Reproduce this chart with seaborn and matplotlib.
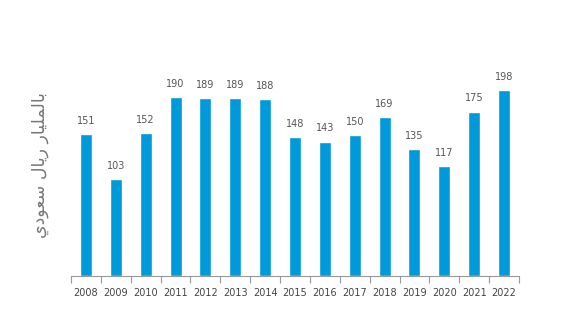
import matplotlib
matplotlib.use("Agg")
import matplotlib.pyplot as plt
import seaborn as sns
import pandas as pd
from matplotlib.ticker import FixedLocator

years = ["2008", "2009", "2010", "2011", "2012", "2013", "2014", "2015",
         "2016", "2017", "2018", "2019", "2020", "2021", "2022"]
values = [151, 103, 152, 190, 189, 189, 188, 148, 143, 150, 169, 135, 117, 175, 198]
ylabel_logical = "بالمليار ريال سعودي"
# visual (shaped, left-to-right) form of the label above
ylabel_visual = ("\uFEF1\uFEA9\uFEEE\uFECC\uFEB3" + " " +
                 "\uFEDD\uFE8E\uFEF3\uFEAD" + " " +
                 "\uFEAD\uFE8E\uFEF4\uFEE0\uFEE4\uFEDF\uFE8E\uFE91")

df = pd.DataFrame({"year": years, "value": values})

sns.set_theme(style="white")
plt.rcParams['font.family'] = ['DejaVu Sans']

fig = plt.figure(figsize=(5.73, 3.33), dpi=100)
ax = fig.add_axes([71/573, 1-276/333, 448/573, 235/333])

sns.barplot(data=df, x="year", y="value", color="#009ADA", width=0.4,
            saturation=1, ax=ax)

ax.set_ylim(0, 250)
ax.set_xlim(-0.5, len(years) - 0.5)
for i, v in enumerate(values):
    ax.annotate(str(v), (i, v), xytext=(0, 6), textcoords="offset points",
                ha="center", va="bottom", fontsize=7, color="#555555")

ax.set_yticks([])
ax.set_xlabel("")
ax.set_ylabel("")
for s in ["top", "right", "left"]:
    ax.spines[s].set_visible(False)
ax.spines["bottom"].set_color("#999999")
ax.spines["bottom"].set_linewidth(0.8)
ax.tick_params(axis="x", which="major", length=0, labelsize=7,
               labelcolor="#444444", pad=9)
ax.xaxis.set_minor_locator(FixedLocator([i - 0.5 for i in range(len(years) + 1)]))
ax.tick_params(axis="x", which="minor", length=5, color="#999999", width=0.8,
               bottom=True)

fig.text(40/573, 1-165/333, ylabel_visual, rotation=90, ha="center",
         va="center", fontsize=12.5, color="#777777")

fig.savefig("out.png", dpi=100)
